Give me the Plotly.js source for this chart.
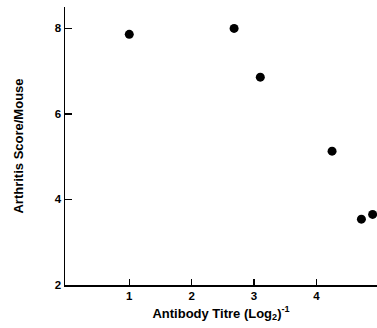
<!DOCTYPE html>
<html><head><meta charset="utf-8">
<script src="https://cdn.plot.ly/plotly-3.0.1.min.js"></script>
<style>html,body{margin:0;padding:0;background:#fff;}#chart{width:377px;height:328px;}</style>
</head><body><div id="chart"></div>
<script>
var titre = [1.0, 2.68, 3.10, 4.25, 4.72, 4.90];
var score = [7.86, 8.0, 6.86, 5.13, 3.54, 3.65];
var xTicks = [1, 2, 3, 4];
var yTicks = [2, 4, 6, 8];

var font = {family: 'Liberation Sans, Arial, sans-serif', size: 11, color: '#000'};
Plotly.newPlot('chart', [{
  x: titre, y: score, mode: 'markers', type: 'scatter',
  marker: {size: 9, color: '#000'}, cliponaxis: false
}], {
  width: 377, height: 328,
  margin: {l: 65, r: 0, t: 7, b: 43},
  showlegend: false,
  paper_bgcolor: '#fff', plot_bgcolor: '#fff',
  font: font,
  xaxis: {
    range: [-0.03, 4.97], tickvals: xTicks, ticktext: xTicks.map(String),
    ticks: 'inside', ticklen: 6, tickwidth: 1.2, tickcolor: '#000',
    showline: true, linecolor: '#000', linewidth: 1.5,
    showgrid: false, zeroline: false,
    tickfont: {family: 'Liberation Sans, Arial, sans-serif', size: 11.5, color: '#000', weight: 'bold'},
    title: {text: 'Antibody Titre (Log<sub>2</sub>)<sup>-1</sup>', standoff: 7,
      font: {family: 'Liberation Sans, Arial, sans-serif', size: 13, color: '#000', weight: 'bold'}}
  },
  yaxis: {
    range: [2, 8.5], tickvals: yTicks, ticktext: yTicks.map(String),
    ticks: 'inside', ticklen: 7, tickwidth: 1.2, tickcolor: '#000',
    showline: true, linecolor: '#000', linewidth: 1.5,
    showgrid: false, zeroline: false,
    tickfont: {family: 'Liberation Sans, Arial, sans-serif', size: 11.5, color: '#000', weight: 'bold'},
    title: {text: 'Arthritis Score/Mouse', standoff: 28,
      font: {family: 'Liberation Sans, Arial, sans-serif', size: 13, color: '#000', weight: 'bold'}}
  }
}, {displayModeBar: false, staticPlot: true});
</script></body></html>
